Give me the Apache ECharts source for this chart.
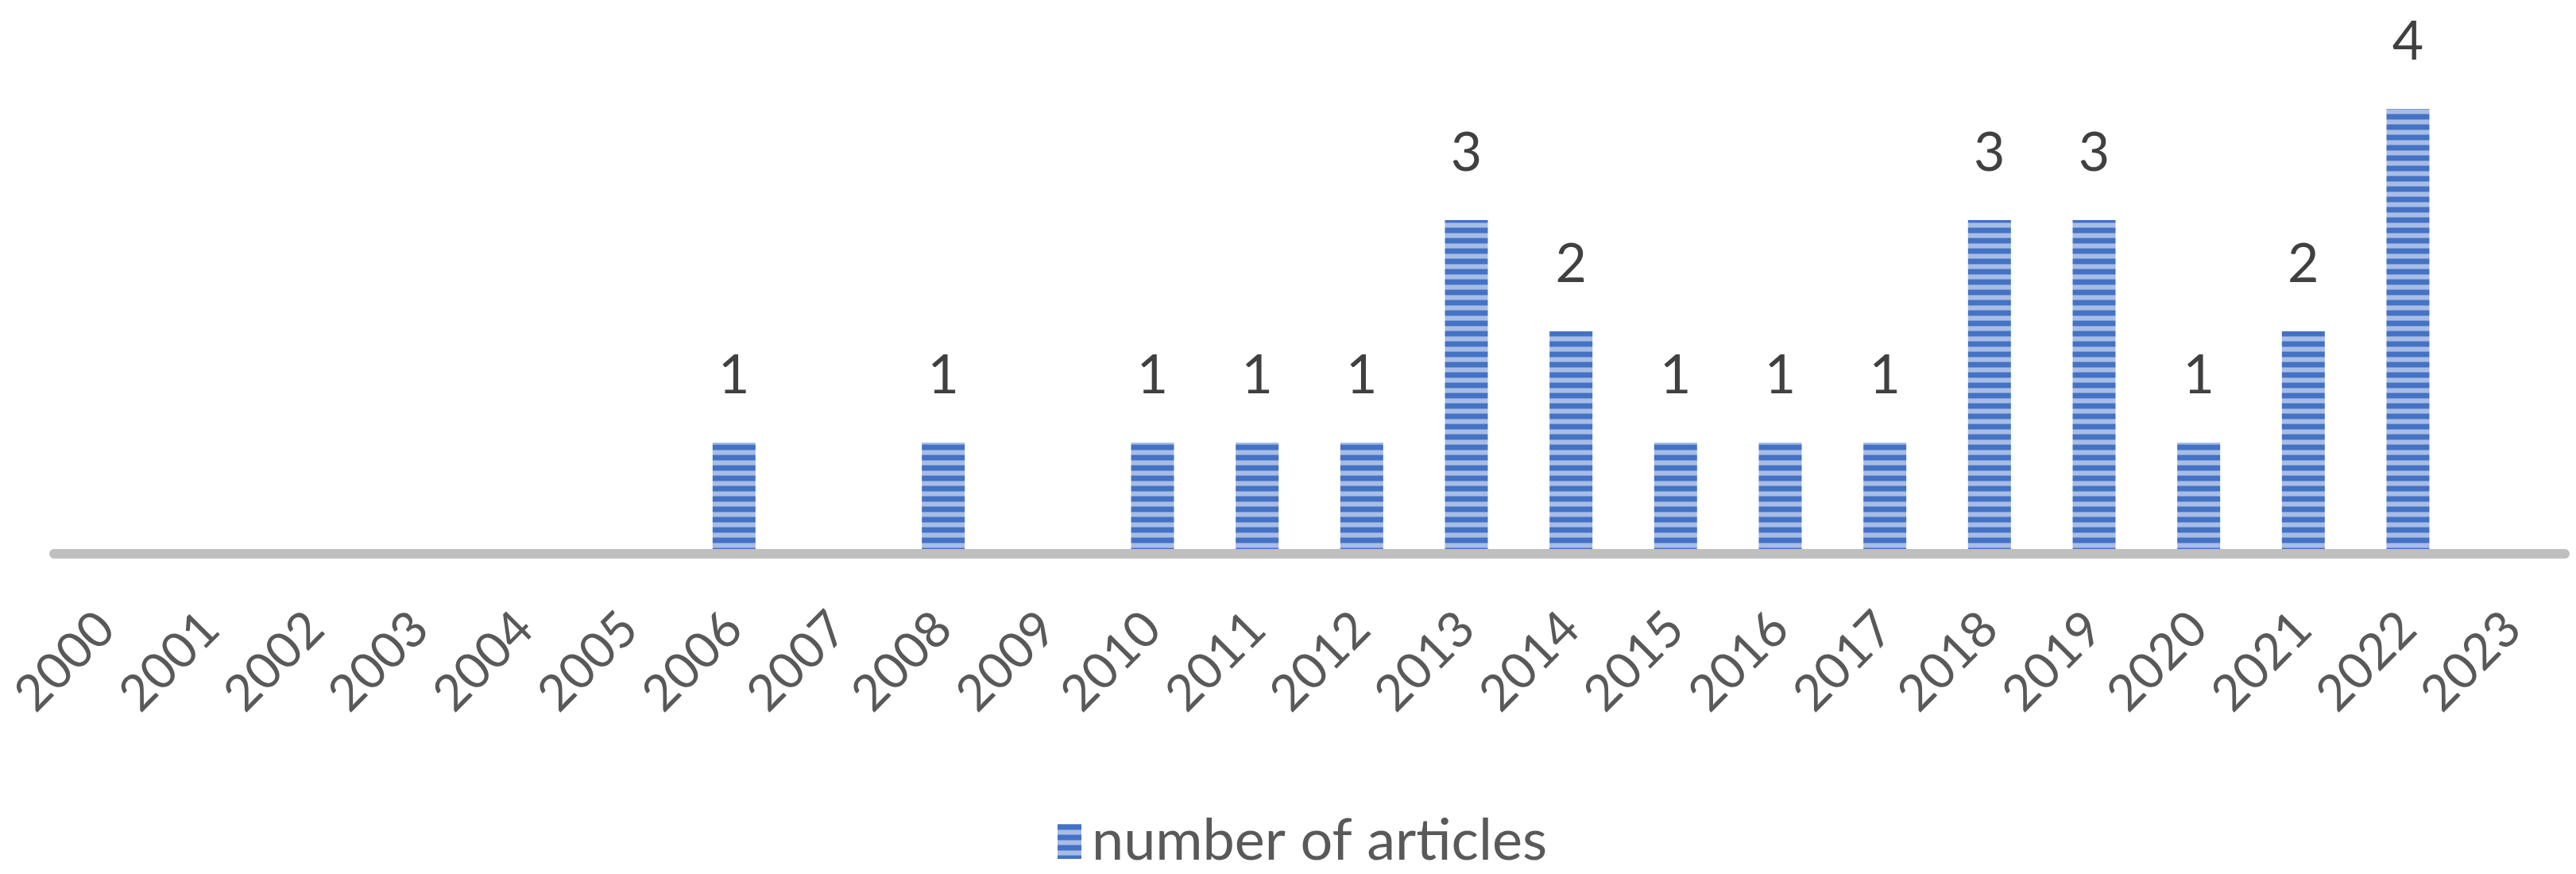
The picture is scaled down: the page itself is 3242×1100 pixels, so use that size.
<!DOCTYPE html>
<html>
<head>
<meta charset="utf-8">
<script src="https://cdn.jsdelivr.net/npm/echarts@6/dist/echarts.min.js"></script>
<style>
  html, body { margin: 0; padding: 0; background: #ffffff; }
  #chart { width: 3242px; height: 1100px; }
</style>
</head>
<body>
<div id="chart"></div>
<script>
const years = ['2000','2001','2002','2003','2004','2005','2006','2007','2008','2009','2010','2011',
               '2012','2013','2014','2015','2016','2017','2018','2019','2020','2021','2022','2023'];
const articles = [0,0,0,0,0,0,1,0,1,0,1,1,1,3,2,1,1,1,3,3,1,2,4,0];
const seriesName = 'number of articles';

// horizontal-stripe fill pattern (Excel "dark horizontal")
const pat = document.createElement('canvas');
pat.width = 8; pat.height = 13;
const pc = pat.getContext('2d');
pc.fillStyle = '#a7bde6'; pc.fillRect(0, 0, 8, 13);
pc.fillStyle = '#7d9bd6'; pc.fillRect(0, 0, 8, 1);
pc.fillStyle = '#4472c4'; pc.fillRect(0, 1, 8, 6);
pc.fillStyle = '#7d9bd6'; pc.fillRect(0, 7, 8, 1);

const chart = echarts.init(document.getElementById('chart'));
chart.setOption({
  backgroundColor: '#ffffff',
  animation: false,
  grid: { left: 68, right: 14, top: 137, bottom: 403, containLabel: false },
  legend: {
    data: [seriesName],
    left: 1326, top: 1018,
    itemWidth: 30, itemHeight: 44, itemGap: 20,
    icon: 'rect',
    textStyle: { fontFamily: 'Lato', fontSize: 72, color: '#595959', padding: [0,0,0,8] }
  },
  xAxis: {
    type: 'category',
    data: years,
    z: 3,
    axisLine: { show: true, lineStyle: { color: '#bfbfbf', width: 12 } },
    axisTick: { show: false },
    axisLabel: {
      interval: 0, rotate: 45, margin: 84,
      fontFamily: 'Lato', fontSize: 63, color: '#595959'
    },
    splitLine: { show: false }
  },
  yAxis: {
    type: 'value', min: 0, max: 4, interval: 1, show: false
  },
  series: [{
    name: seriesName,
    type: 'bar',
    data: articles,
    barWidth: 54,
    itemStyle: { color: { image: pat, repeat: 'repeat' } },
    label: {
      show: true, position: 'top', distance: 50,
      fontFamily: 'Lato', fontSize: 68, color: '#404040',
      formatter: p => (p.value > 0 ? String(p.value) : '')
    }
  }]
});
</script>
</body>
</html>
